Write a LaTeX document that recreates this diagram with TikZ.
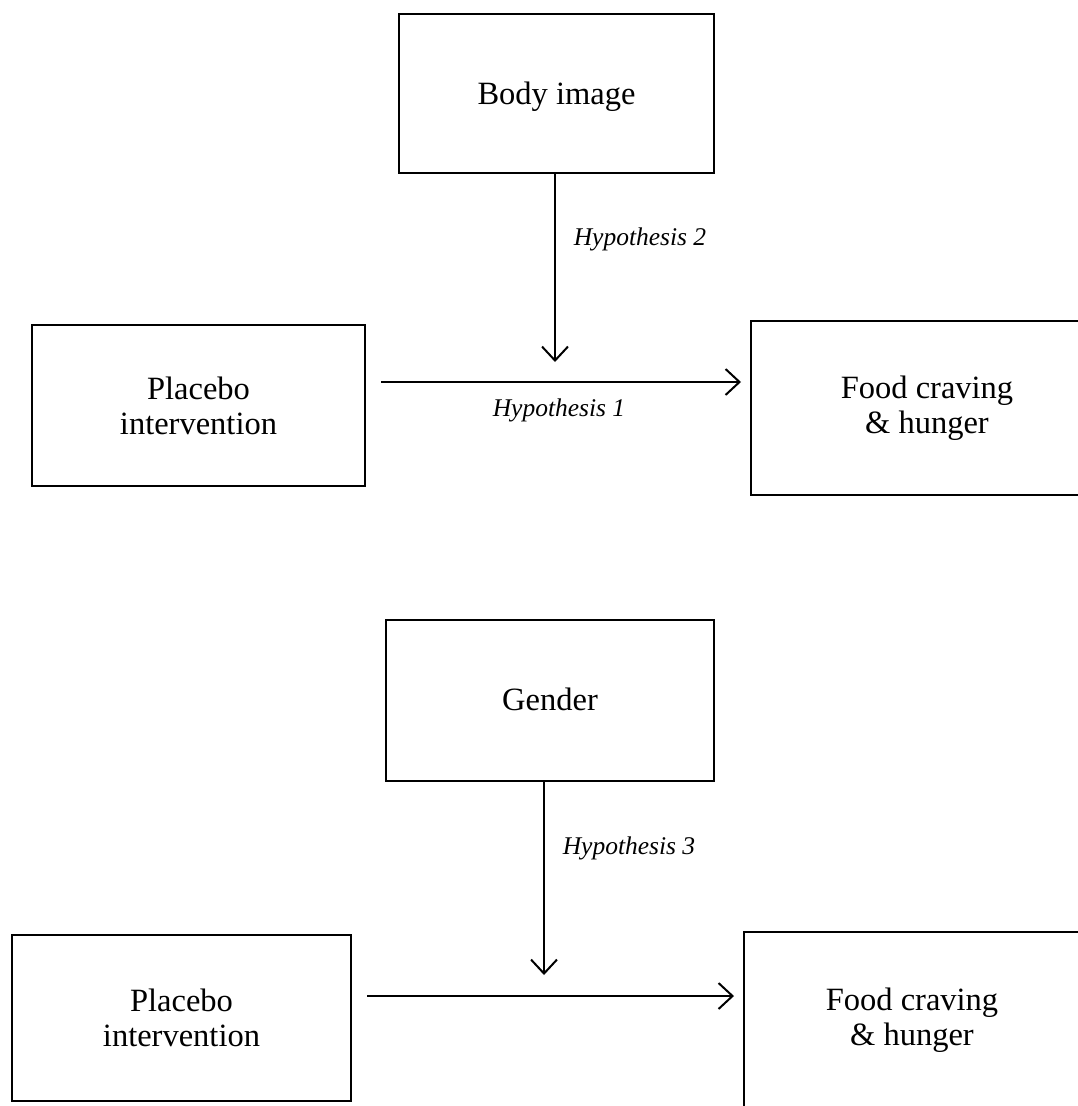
\documentclass[tikz,border=0pt]{standalone}
\usepackage{fontspec}
\setmainfont{Liberation Serif}
\usetikzlibrary{arrows.meta}
\begin{document}
\begin{tikzpicture}[x=1pt,y=-1pt,
  box/.style={draw=black,line width=2.4pt,inner sep=0pt,align=center,font=\fontsize{32.5}{35}\selectfont},
  hyp/.style={font=\fontsize{25.5}{28}\selectfont\itshape,inner sep=1pt},
  conn/.style={line width=2pt,-{Straight Barb[length=14pt,width=26pt,line width=2pt]}}]
\useasboundingbox[fill=white] (0,0) rectangle (1078,1106);
% top diagram
\node[box,minimum width=315pt,minimum height=159pt,text height=29pt,text depth=7pt] (body) at (556.5,93.5) {Body image};
\node[box,minimum width=333pt,minimum height=161pt] (pl1) at (198.5,405.5) {Placebo\\intervention};
\node[box,minimum width=352pt,minimum height=174pt] (fc1) at (927,408) {Food craving\\\& hunger};
\coordinate (v1e) at (555,362);
\coordinate (h1s) at (381,382);
\coordinate (h1e) at (741,382);
\draw[conn] (body.south -| v1e) -- (v1e);
\draw[conn] (h1s) -- (h1e);
\node[hyp] (hy2) at (640,239) {Hypothesis 2};
\node[hyp] (hy1) at (559,410) {Hypothesis 1};
% bottom diagram
\node[box,minimum width=328pt,minimum height=161pt,text height=26pt,text depth=7pt] (gen) at (550,700.5) {Gender};
\node[box,minimum width=339pt,minimum height=166pt] (pl2) at (181.5,1018) {Placebo\\intervention};
\node[box,minimum width=336pt,minimum height=176pt] (fc2) at (912,1020) {Food craving\\\& hunger};
\coordinate (v2e) at (544,975);
\coordinate (h2s) at (367,996);
\coordinate (h2e) at (734,996);
\draw[conn] (gen.south -| v2e) -- (v2e);
\draw[conn] (h2s) -- (h2e);
\node[hyp] (hy3) at (629,848) {Hypothesis 3};
\end{tikzpicture}
\end{document}
